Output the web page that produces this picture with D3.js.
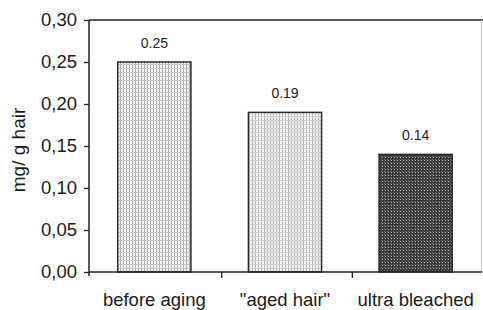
<!DOCTYPE html>
<html>
<head>
<meta charset="utf-8">
<script src="https://cdn.jsdelivr.net/npm/d3@7"></script>
<style>
  body { margin: 0; background: #fff; }
  text { font-family: Arial, "Liberation Sans", sans-serif; fill: #1a1a1a; }
</style>
</head>
<body>
<svg id="chart" width="483" height="310"></svg>
<script>
const categories = ['before aging', '"aged hair"', 'ultra bleached'];
const values = [0.25, 0.19, 0.14];
const valueLabels = ['0.25', '0.19', '0.14'];
const yTicks = [0, 0.05, 0.10, 0.15, 0.20, 0.25, 0.30];
const patternIds = ['gridA', 'gridB', 'dots'];

const WIDTH = 483;
const HEIGHT = 310;
const margin = { top: 20, right: 1, bottom: 38, left: 89 };

const svg = d3.select('#chart');
const defs = svg.append('defs');

// light grid fills for the first two bars
function gridPattern(id, vColor, hColor) {
	const p = defs.append('pattern')
		.attr('id', id)
		.attr('patternUnits', 'userSpaceOnUse')
		.attr('width', 3)
		.attr('height', 4);
	p.append('rect').attr('width', 3).attr('height', 4).attr('fill', '#f4f4f4');
	p.append('rect').attr('x', 0).attr('y', 0).attr('width', 1).attr('height', 4).attr('fill', vColor);
	p.append('rect').attr('x', 0).attr('y', 0).attr('width', 3).attr('height', 1).attr('fill', hColor);
}
gridPattern('gridA', '#a8a8a8', '#c4c4c4');
gridPattern('gridB', '#b4b4b4', '#cfcfcf');

// dark dotted fill for the third bar
const dots = defs.append('pattern')
	.attr('id', 'dots')
	.attr('patternUnits', 'userSpaceOnUse')
	.attr('width', 3)
	.attr('height', 3);
dots.append('rect').attr('width', 3).attr('height', 3).attr('fill', '#3a3a3a');
dots.append('rect').attr('x', 1).attr('y', 1).attr('width', 1).attr('height', 1).attr('fill', '#b8b8b8');
dots.append('rect').attr('x', 0).attr('y', 0).attr('width', 1).attr('height', 1).attr('fill', '#6a6a6a');

const x = d3.scaleBand()
	.domain(categories)
	.range([margin.left, WIDTH - margin.right - 1])
	.paddingInner(0.44)
	.paddingOuter(0.22);

const y = d3.scaleLinear()
	.domain([0, 0.30])
	.range([HEIGHT - margin.bottom, margin.top]);

// frame: top and right
svg.append('line')
	.attr('x1', margin.left).attr('x2', WIDTH)
	.attr('y1', y(0.30)).attr('y2', y(0.30))
	.attr('stroke', '#555').attr('stroke-width', 2);
svg.append('line')
	.attr('x1', x.range()[1] + 0.5).attr('x2', x.range()[1] + 0.5)
	.attr('y1', y(0.30)).attr('y2', y(0))
	.attr('stroke', '#cfcfcf').attr('stroke-width', 1);

// bars
svg.append('g')
	.selectAll('rect')
	.data(values)
	.enter()
	.append('rect')
	.attr('x', (d, i) => x(categories[i]))
	.attr('y', (d) => y(d))
	.attr('width', x.bandwidth())
	.attr('height', (d) => y(0) - y(d))
	.attr('fill', (d, i) => `url(#${patternIds[i]})`)
	.attr('stroke', '#2a2a2a')
	.attr('stroke-width', 1.5);

// value labels
svg.append('g')
	.selectAll('text')
	.data(values)
	.enter()
	.append('text')
	.attr('x', (d, i) => x(categories[i]) + x.bandwidth() / 2)
	.attr('y', (d) => y(d) - 14)
	.attr('text-anchor', 'middle')
	.style('font-size', '14px')
	.text((d, i) => valueLabels[i]);

// y axis
const yAxis = svg.append('g')
	.attr('transform', `translate(${margin.left},0)`)
	.call(d3.axisLeft(y)
		.tickValues(yTicks)
		.tickSize(5)
		.tickPadding(7)
		.tickFormat((d) => d3.format('.2f')(d).replace('.', ',')));
yAxis.select('.domain').remove();
yAxis.append('line')
	.attr('x1', 0).attr('x2', 0)
	.attr('y1', y(0.30)).attr('y2', y(0) + 4)
	.attr('stroke', '#222').attr('stroke-width', 1.5);
yAxis.selectAll('.tick line').attr('stroke', '#222').attr('stroke-width', 1.3);
yAxis.selectAll('.tick text')
	.attr('fill', '#1a1a1a')
	.style('font-size', '18.5px')
	.style('font-family', 'Arial, "Liberation Sans", sans-serif');

// x axis
const xAxis = svg.append('g')
	.attr('transform', `translate(0,${y(0)})`);
xAxis.append('line')
	.attr('x1', margin.left).attr('x2', x.range()[1] + 1)
	.attr('y1', 0).attr('y2', 0)
	.attr('stroke', '#222').attr('stroke-width', 1.5);
xAxis.selectAll('line.sep')
	.data(categories.slice(1))
	.enter()
	.append('line')
	.attr('class', 'sep')
	.attr('x1', (d) => x(d) - x.step() * x.paddingInner() / 2 + 2)
	.attr('x2', (d) => x(d) - x.step() * x.paddingInner() / 2 + 2)
	.attr('y1', 0).attr('y2', 6)
	.attr('stroke', '#222').attr('stroke-width', 1.3);
xAxis.selectAll('text')
	.data(categories)
	.enter()
	.append('text')
	.attr('x', (d) => x(d) + x.bandwidth() / 2)
	.attr('y', 34)
	.attr('text-anchor', 'middle')
	.style('font-size', '18.5px')
	.text((d) => d);

// y axis title
svg.append('text')
	.attr('transform', `translate(25,${(y(0) + y(0.30)) / 2 + 4}) rotate(-90)`)
	.attr('text-anchor', 'middle')
	.style('font-size', '19px')
	.text('mg/ g hair');
</script>
</body>
</html>
